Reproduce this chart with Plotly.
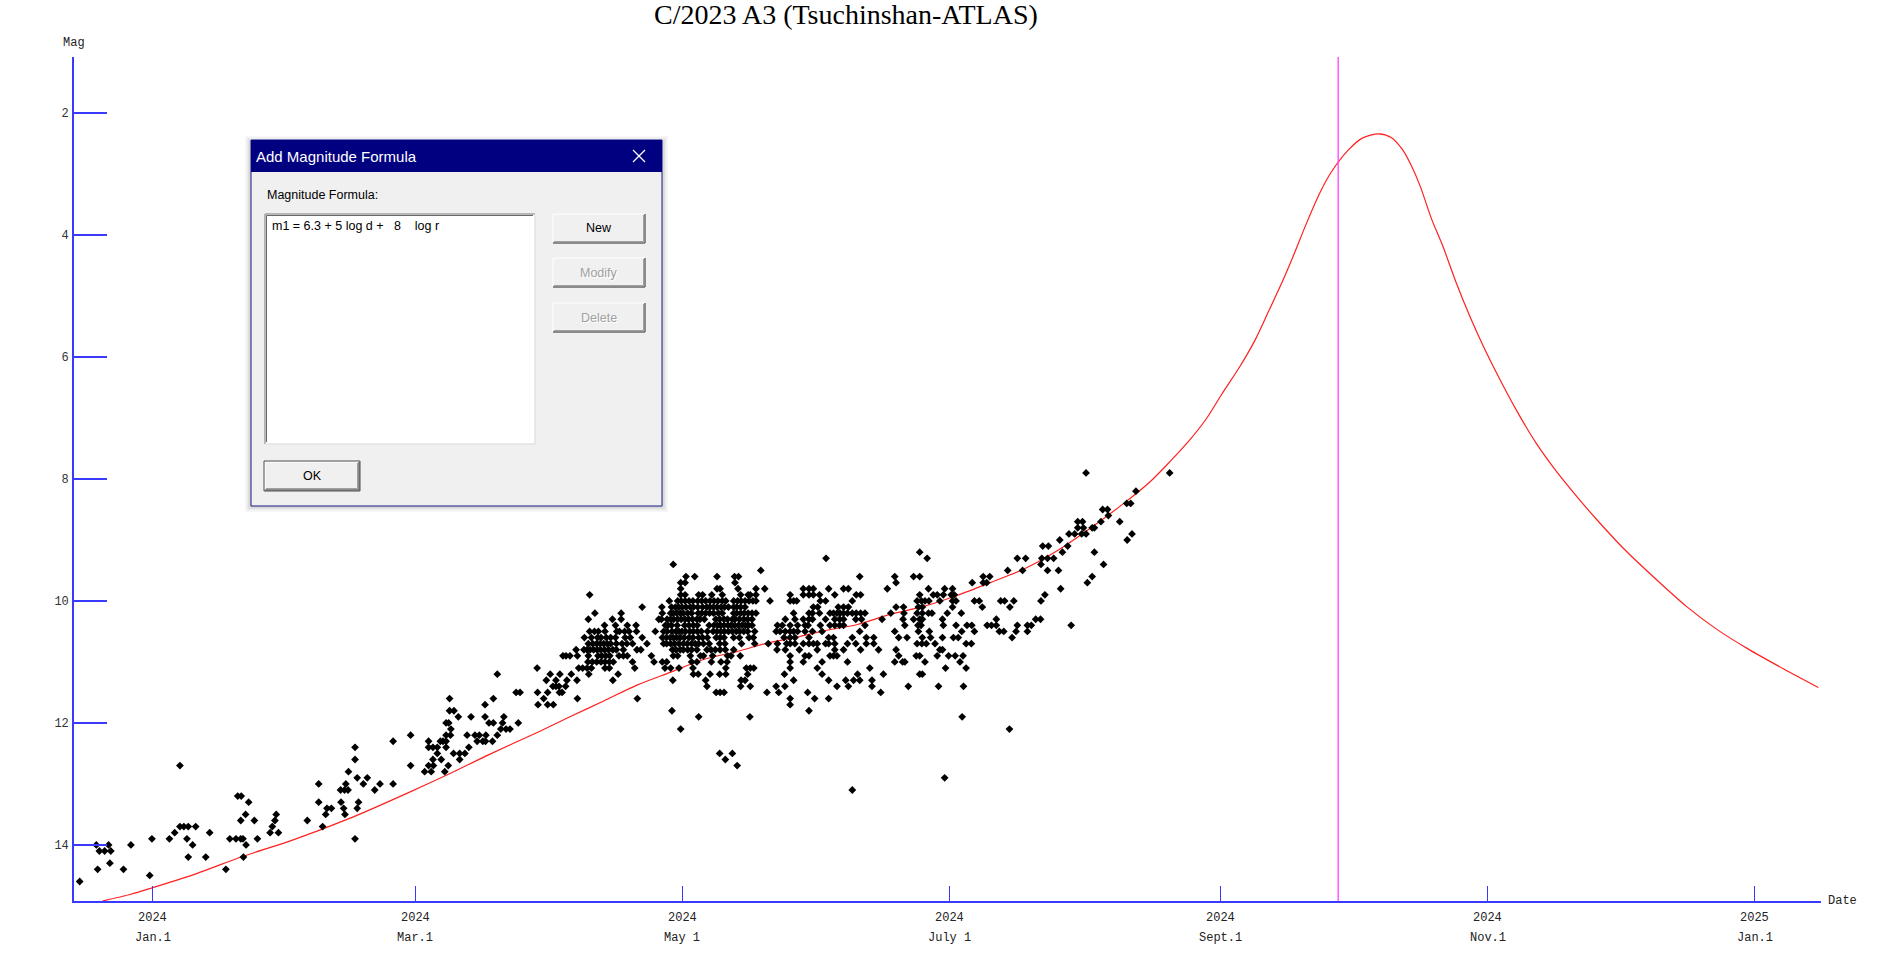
import pandas as pd
import plotly.graph_objects as go

# -----------------------------------------
# Data
# days are counted from 2024 Jan 1.0
# -----------------------------------------
BASE = pd.Timestamp("2024-01-01")

# observations, grouped as (magnitude, [days...])
obs_winter = [
    (14.6, [-16.7]),
    (14.5, [-0.7]),
    (14.4, [-12.6, -6.7, 16.7]),
    (14.3, [-9.8]),
    (14.2, [8.1, 12.1, 20.7]),
    (14.1, [-12.2, -11.0, -9.6]),
    (14.0, [-12.9, -10.1, -5.0, 9.1, 21.3]),
    (13.9, [-0.2, 3.8, 7.8, 17.6, 19.0, 20.1, 20.6, 23.9, 46.2]),
    (13.8, [5.0, 13.0, 26.8, 28.7]),
    (13.7, [6.2, 7.1, 8.1, 9.8, 27.3, 38.8]),
    (13.6, [20.1, 23.2, 27.9, 35.3]),
    (13.5, [21.2, 28.2, 39.5, 43.9]),
    (13.4, [39.8, 40.8, 43.6, 46.7]),
    (13.3, [21.9, 37.9, 43.0, 47.0]),
    (13.2, [19.4, 20.2]),
    (13.1, [42.9, 43.8, 44.6, 50.7]),
    (13.0, [37.9, 44.1, 48.1, 51.9, 54.9]),
    (12.9, [46.7, 49.0]),
    (12.8, [44.7, 62.1, 63.6, 66.7]),
    (12.7, [6.2, 58.9, 63.0, 64.1, 67.5]),
    (12.6, [46.2, 64.0, 65.9, 70.1]),
    (12.5, [65.0, 68.7, 70.1, 71.3]),
    (12.4, [46.2, 63.0, 64.0, 65.0, 67.0, 72.2]),
    (12.3, [54.9, 63.0, 65.7, 66.3, 67.0, 74.1, 75.4, 76.0]),
    (12.2, [58.9, 67.0, 68.0, 71.8, 73.6, 74.6, 76.1]),
    (12.1, [68.1]),
    (12.0, [67.0, 67.6, 76.8]),
    (11.9, [69.8, 72.7, 75.9]),
    (11.8, [67.8, 68.8]),
    (11.7, [75.9]),
    (11.6, [67.8]),
]

obs_spring = [
    (9.4, [118.9]),
    (9.5, [138.9]),
    (9.6, [121.8, 123.8, 128.9, 132.9, 133.8]),
    (9.7, [120.6, 121.6, 133.0]),
    (9.8, [120.6, 128.9, 129.6, 133.7, 137.8, 139.8]),
    (9.9, [99.8, 120.6, 121.6, 124.7, 125.6, 127.7, 130.1, 134.3, 136.0, 136.5, 137.8]),
    (10.0, [118.0, 119.9, 120.7, 121.6, 122.5, 123.4, 124.5, 125.4, 126.3, 127.3, 128.2,
            129.1, 130.1, 130.9, 132.7, 133.6, 134.4, 135.3, 136.2, 137.1, 137.8, 141.0]),
    (10.1, [111.8, 116.3, 118.5, 119.4, 120.1, 120.9, 121.8, 122.8, 123.5, 124.5, 125.6,
            126.6, 127.3, 128.1, 128.9, 129.8, 130.6, 131.5, 132.7, 133.4, 134.3, 135.3]),
    (10.2, [101.0, 107.0, 116.4, 118.3, 118.9, 119.7, 120.5, 121.2, 122.2, 123.1, 124.6,
            125.4, 126.3, 127.2, 128.1, 129.2, 130.1, 132.7, 133.4, 134.3, 135.1, 136.0,
            136.9, 137.8]),
    (10.3, [99.5, 105.0, 107.0, 115.6, 116.2, 117.5, 118.3, 119.0, 119.9, 120.7, 121.6,
            122.4, 123.3, 124.3, 125.0, 126.0, 128.6, 129.5, 130.5, 131.3, 132.4, 133.0,
            134.0, 135.0, 135.9, 136.9, 144.5]),
    (10.4, [103.2, 105.7, 108.4, 110.4, 117.1, 117.7, 118.5, 119.8, 121.5, 122.5, 123.5,
            124.4, 127.1, 128.2, 129.0, 129.7, 130.5, 131.4, 132.1, 132.9, 133.8, 134.6,
            135.4, 136.1, 136.9, 142.7, 143.8]),
    (10.5, [99.8, 100.9, 101.8, 103.3, 106.0, 106.6, 107.8, 108.8, 110.5, 114.8, 116.7,
            117.5, 118.6, 119.5, 120.2, 120.9, 121.7, 122.7, 123.5, 124.4, 125.3, 126.7,
            128.0, 128.9, 129.8, 130.6, 131.5, 132.4, 133.3, 134.1, 135.0, 135.9, 137.5,
            142.4, 143.3, 144.5]),
    (10.6, [98.6, 100.2, 101.6, 102.4, 103.6, 104.6, 105.7, 107.9, 109.1, 111.8, 116.4,
            117.3, 118.2, 118.9, 119.7, 120.5, 121.4, 122.5, 123.4, 124.7, 125.6, 126.7,
            128.7, 129.6, 130.5, 132.7, 134.0, 136.2, 137.2, 144.2]),
    (10.7, [99.5, 100.5, 101.4, 102.2, 103.0, 103.8, 104.6, 105.9, 107.2, 108.3, 109.6,
            112.9, 116.7, 117.4, 118.3, 119.2, 120.2, 121.2, 122.1, 123.1, 123.9, 124.7,
            125.8, 127.1, 129.5, 130.7, 134.5, 137.5, 140.6, 142.7, 144.8]),
    (10.8, [96.7, 98.5, 99.2, 99.9, 100.7, 101.5, 102.3, 103.2, 104.1, 105.1, 105.9,
            107.5, 110.6, 111.5, 118.7, 119.5, 120.5, 121.2, 122.2, 123.1, 124.3, 126.6,
            127.5, 128.5, 129.6, 130.8, 132.7, 142.6, 144.5]),
    (10.9, [93.7, 94.4, 95.3, 97.0, 99.5, 101.7, 102.6, 103.5, 104.4, 106.5, 107.5,
            108.4, 113.9, 118.9, 119.9, 122.8, 125.1, 125.8, 127.9, 131.3, 132.1, 134.2]),
    (11.0, [99.4, 100.4, 101.4, 102.4, 103.3, 104.3, 105.2, 109.6, 114.5, 116.4, 117.4,
            123.1, 124.3, 127.6, 129.8, 131.2]),
    (11.1, [87.8, 97.3, 98.2, 99.2, 100.2, 103.3, 104.3, 110.1, 117.0, 118.3, 120.2,
            123.4, 130.9, 135.6, 136.5, 137.3]),
    (11.2, [78.7, 90.8, 93.0, 95.6, 99.6, 106.3, 123.5, 124.6, 127.3, 129.5, 130.9,
            135.9, 144.3]),
    (11.3, [89.9, 92.1, 94.6, 96.9, 105.1, 118.8, 126.3, 134.4, 135.3]),
    (11.4, [91.4, 92.1, 92.8, 94.3, 126.6, 134.3, 136.5, 142.4, 144.4]),
    (11.5, [83.0, 83.9, 87.9, 90.2, 92.9, 93.5, 128.7, 129.6, 130.5, 140.3, 143.0]),
    (11.6, [77.8, 89.3, 97.0, 110.7]),
    (11.7, [88.0, 90.2, 91.5]),
    (11.8, [118.6]),
    (11.9, [80.2, 124.7, 136.4]),
    (12.0, [77.8, 79.9, 83.5]),
    (12.1, [79.5, 80.7, 81.6, 120.6]),
    (12.2, [78.7]),
    (12.3, [77.6]),
    (12.5, [129.5, 132.4]),
    (12.6, [130.8]),
    (12.7, [133.5]),
]

obs_summer = [
    (9.2, [175.2]),
    (9.3, [153.8, 176.9]),
    (9.6, [161.5, 169.5, 173.8, 175.2, 189.7, 191.2, 214.6]),
    (9.7, [169.8, 187.2, 189.7, 190.5, 213.5]),
    (9.8, [148.6, 149.9, 150.9, 154.4, 157.8, 158.9, 167.8, 177.2, 180.9, 182.7, 207.4]),
    (9.9, [145.6, 148.6, 149.9, 150.9, 152.3, 155.8, 160.7, 161.7, 175.2, 178.3, 179.2,
           180.6, 182.4, 183.1, 203.8]),
    (10.0, [145.6, 146.4, 147.1, 152.5, 153.7, 159.8, 174.6, 175.6, 176.4, 177.3, 179.8,
            182.7, 183.5, 187.7, 188.8, 193.7, 194.6, 196.7, 202.9]),
    (10.1, [150.9, 151.9, 156.6, 157.8, 158.9, 169.8, 171.5, 174.9, 175.8, 182.7, 189.5,
            195.8]),
    (10.2, [146.4, 149.9, 150.7, 152.3, 154.7, 155.5, 156.3, 157.0, 157.8, 158.7, 159.8,
            160.7, 161.7, 162.7, 168.6, 171.6, 174.6, 175.8, 177.2, 178.0, 181.5, 184.7]),
    (10.3, [146.7, 148.6, 149.9, 150.7, 153.7, 155.8, 156.9, 157.8, 160.6, 161.9, 166.6,
            171.4, 173.8, 175.2, 175.8, 180.4, 192.7, 201.7, 202.8]),
    (10.4, [145.6, 147.3, 149.0, 149.7, 152.5, 154.7, 155.8, 156.9, 157.8, 162.7, 171.8,
            174.8, 175.5, 180.6, 183.5, 186.0, 187.1, 190.6, 191.6, 192.7, 197.5, 199.8,
            200.7, 209.8]),
    (10.5, [145.6, 146.4, 147.3, 149.0, 150.7, 152.9, 161.5, 169.5, 174.9, 177.4, 184.8,
            187.7, 193.4, 194.4, 197.2, 199.8]),
    (10.6, [145.6, 146.7, 149.9, 154.4, 155.5, 159.8, 163.0, 164.7, 170.4, 172.3, 175.8,
            177.7, 180.4, 182.9, 184.0, 196.3]),
    (10.7, [145.6, 146.7, 148.6, 149.9, 150.9, 151.8, 153.7, 154.4, 155.8, 158.7, 160.6,
            163.0, 164.7, 174.6, 175.7, 176.7, 178.7, 185.8, 187.0]),
    (10.8, [147.7, 151.8, 155.8, 157.8, 161.7, 165.8, 169.8, 179.8, 180.4]),
    (10.9, [145.6, 149.0, 149.9, 154.7, 155.5, 156.3, 170.4, 174.4, 175.2, 179.2, 181.8,
            183.3, 185.1]),
    (11.0, [145.6, 148.6, 152.9, 158.7, 169.5, 171.3, 171.8, 176.4, 184.4]),
    (11.1, [145.6, 151.8, 163.8, 181.1, 185.8]),
    (11.2, [152.9, 161.0, 166.9, 175.2, 175.8]),
    (11.3, [146.4, 154.4, 158.3, 160.1, 161.5, 164.3]),
    (11.4, [156.3, 158.9, 164.3, 172.6, 179.5, 185.2]),
    (11.5, [149.6, 166.3]),
    (11.6, [145.6, 151.2, 154.4]),
    (11.7, [145.6]),
    (11.8, [149.9]),
    (11.9, [184.9]),
    (12.1, [195.7]),
    (12.9, [180.9]),
    (13.1, [159.8]),
]

obs_august = [
    (7.9, [213.2, 232.3]),
    (8.2, [224.6]),
    (8.4, [222.5, 223.4]),
    (8.5, [217.0, 218.1]),
    (8.6, [218.3]),
    (8.7, [211.3, 212.4, 216.6, 220.9]),
    (8.8, [211.3, 212.6, 214.6, 215.1]),
    (8.9, [209.3, 210.6, 212.2, 213.2, 223.7]),
    (9.0, [207.2, 222.6]),
    (9.1, [203.3, 204.6, 209.0]),
    (9.2, [207.8, 215.1]),
    (9.3, [197.5, 199.4, 203.1, 204.4, 205.8]),
    (9.4, [202.9, 217.2]),
    (9.5, [195.3, 198.7, 204.4, 206.9]),
]

# red magnitude-formula curve, read point by point
curve_days = [-11.5, -5.0, 0, 10.0, 20.5, 31.6, 45.8, 58.8, 67.9, 76.8, 87.7,
              95.3, 103.0, 110.6, 118.2, 125.8, 133.4, 141.0, 147.9, 153.2, 160.8, 168.4,
              176.1, 183.7, 191.3, 198.9, 206.5, 214.1, 221.8, 227.9, 232.3, 237.0, 240.6,
              244.2, 248.3, 251.9, 254.9, 258.0, 260.5, 263.6, 266.6, 269.2, 273.2,
              276.3, 280.1, 282.9, 285.5, 287.5, 289.6, 292.1, 294.7, 297.7, 300.8, 303.8,
              307.9, 311.5, 316.1, 320.7, 325.8, 329.8, 336.0, 344.1, 350.2, 357.4, 364.5,
              372.7, 380.5]
curve_mags = [14.92, 14.81, 14.70, 14.47, 14.19, 13.93, 13.54, 13.13, 12.83,
              12.52, 12.16, 11.90, 11.64, 11.38, 11.17, 10.96, 10.83, 10.68, 10.58, 10.49,
              10.39, 10.22, 10.09, 9.91, 9.70, 9.48, 9.18, 8.81, 8.40, 8.04, 7.72, 7.35,
              7.02, 6.61, 6.16, 5.71, 5.25, 4.77, 4.35, 3.80, 3.31, 2.97, 2.60, 2.41,
              2.34, 2.40, 2.60, 2.86, 3.21, 3.73, 4.18, 4.77, 5.32, 5.80, 6.39, 6.87, 7.42,
              7.88, 8.33, 8.66, 9.14, 9.69, 10.08, 10.47, 10.79, 11.12, 11.42]

perihelion_day = 270.8

tick_dates = ["2024-01-01", "2024-03-01", "2024-05-01", "2024-07-01",
              "2024-09-01", "2024-11-01", "2025-01-01"]
tick_years = ["2024", "2024", "2024", "2024", "2024", "2024", "2025"]
tick_months = ["Jan.1", "Mar.1", "May 1", "July 1", "Sept.1", "Nov.1", "Jan.1"]
mag_ticks = [2, 4, 6, 8, 10, 12, 14]

formula_text = "m1 = 6.3 + 5 log d +   8    log r"


def expand(rows):
    days, mags = [], []
    for mag, ds in rows:
        for d in ds:
            days.append(d)
            mags.append(mag)
    return days, mags


def to_dates(days):
    return BASE + pd.to_timedelta(pd.Series(days, dtype=float), unit="D")


obs_days, obs_mags = [], []
for block in [obs_winter, obs_spring, obs_summer, obs_august]:
    d, m = expand(block)
    obs_days += d
    obs_mags += m

# plot area in page pixels
PL, PR, PT, PB = 74, 1821, 57, 901
W, H = 1898, 957
AXIS_BLUE = "#3a3aff"
MONO = "Liberation Mono"
UI = "Liberation Sans"


def px(x):
    return (x - PL) / (PR - PL)


def py(y):
    return (PB - y) / (PB - PT)


fig = go.Figure()

fig.add_trace(go.Scatter(
    x=to_dates(curve_days), y=curve_mags, mode="lines",
    line=dict(color="#ff2020", width=1.2, shape="spline", smoothing=0.8),
    hoverinfo="skip", showlegend=False))

fig.add_trace(go.Scatter(
    x=to_dates(obs_days), y=obs_mags, mode="markers",
    marker=dict(symbol="diamond", size=6, color="black", line=dict(width=0)),
    showlegend=False))

shapes = []
annotations = []

# perihelion marker
peri = BASE + pd.Timedelta(days=perihelion_day)
shapes.append(dict(type="line", xref="x", yref="paper", x0=peri, x1=peri, y0=0, y1=1,
                   line=dict(color="#ff40ff", width=1.3)))

# date labels under the ticks
for d, yr, mo in zip(tick_dates, tick_years, tick_months):
    annotations.append(dict(x=d, xref="x", y=0, yref="paper", yshift=-17, text=yr,
                            xanchor="center", yanchor="middle", showarrow=False,
                            font=dict(family=MONO, size=12, color="#222")))
    annotations.append(dict(x=d, xref="x", y=0, yref="paper", yshift=-37, text=mo,
                            xanchor="center", yanchor="middle", showarrow=False,
                            font=dict(family=MONO, size=12, color="#222")))

annotations.append(dict(x=0, xref="paper", y=1, yref="paper", yshift=14, text="Mag",
                        xanchor="center", yanchor="middle", showarrow=False,
                        font=dict(family=MONO, size=12, color="#222")))
annotations.append(dict(x=1, xref="paper", y=0, yref="paper", xshift=5, xanchor="left",
                        yanchor="middle", text="Date", showarrow=False,
                        font=dict(family=MONO, size=12, color="#222")))

# title
annotations.append(dict(x=px(846), xref="paper", y=py(14), yref="paper",
                        xanchor="center", yanchor="middle",
                        text="C/2023 A3 (Tsuchinshan-ATLAS)", showarrow=False,
                        font=dict(family="Liberation Serif", size=28, color="black")))


# ---- the "Add Magnitude Formula" dialog drawn on top ----
def rect(x0, y0, x1, y1, fill, line=None, lw=0):
    shapes.append(dict(type="rect", xref="paper", yref="paper", layer="above",
                       x0=px(x0), x1=px(x1), y0=py(y1), y1=py(y0),
                       fillcolor=fill, line=dict(color=line or fill, width=lw)))


def seg(x0, y0, x1, y1, color, lw=1):
    shapes.append(dict(type="line", xref="paper", yref="paper", layer="above",
                       x0=px(x0), x1=px(x1), y0=py(y0), y1=py(y1),
                       line=dict(color=color, width=lw)))


def label(x, y, text, color="black", size=12.5, anchor="left", family=UI):
    annotations.append(dict(x=px(x), xref="paper", y=py(y), yref="paper", text=text,
                            xanchor=anchor, yanchor="middle", showarrow=False,
                            font=dict(family=family, size=size, color=color)))


def button(x0, y0, x1, y1, text, enabled=True, default=False):
    rect(x0, y0, x1, y1, "#f0f0f0")
    seg(x0, y0, x1, y0, "white")
    seg(x0, y0, x0, y1, "white")
    seg(x0, y1, x1, y1, "#696969", 1.5)
    seg(x1, y0, x1, y1, "#696969", 1.5)
    seg(x0 + 1, y1 - 1.5, x1 - 1.5, y1 - 1.5, "#a0a0a0")
    seg(x1 - 1.5, y0 + 1, x1 - 1.5, y1 - 1.5, "#a0a0a0")
    if default:
        shapes.append(dict(type="rect", xref="paper", yref="paper", layer="above",
                           x0=px(x0 - 1), x1=px(x1 + 1), y0=py(y1 + 1), y1=py(y0 - 1),
                           line=dict(color="#505050", width=1)))
    cx, cy = (x0 + x1) / 2, (y0 + y1) / 2
    if enabled:
        label(cx, cy, text, anchor="center")
    else:
        label(cx + 1, cy + 1, text, color="white", anchor="center")
        label(cx, cy, text, color="#a0a0a0", anchor="center")


# soft shadow
for i, a in enumerate([0.03, 0.04, 0.05, 0.06]):
    g = 6 - i * 1.5
    rect(251 - g, 140 - g + 2, 662 + g, 506 + g, "rgba(0,0,0,%s)" % a)
rect(251, 140, 662, 506, "#f0f0f0", "#1c1c8c", 1)
rect(251, 140, 662, 172, "#000080")
label(254, 156.5, "Add Magnitude Formula", color="white", size=15)
seg(633, 150, 645, 162, "white", 1.2)
seg(633, 162, 645, 150, "white", 1.2)

label(265, 195, "Magnitude Formula:")
rect(265, 214, 535, 444, "white")
seg(265, 214, 535, 214, "#a0a0a0", 1.5)
seg(265, 214, 265, 444, "#a0a0a0", 1.5)
seg(266.5, 215.5, 533, 215.5, "#696969")
seg(266.5, 215.5, 266.5, 442, "#696969")
seg(265, 444, 535, 444, "#e3e3e3", 1.5)
seg(535, 214, 535, 444, "#e3e3e3", 1.5)
label(270, 226, formula_text.replace(" ", "\u00a0"))

button(553, 214, 645, 243, "New")
button(553, 258, 645, 287, "Modify", enabled=False)
button(553, 303, 645, 332, "Delete", enabled=False)
button(265, 462, 359, 490, "OK", default=True)

fig.update_layout(
    width=W, height=H,
    margin=dict(l=PL, r=W - PR, t=PT, b=H - PB, pad=0),
    paper_bgcolor="white", plot_bgcolor="white",
    shapes=shapes, annotations=annotations,
    xaxis=dict(type="date", range=[BASE + pd.Timedelta(days=-18.0),
                                   BASE + pd.Timedelta(days=381.1)],
               tickvals=tick_dates, showticklabels=False, ticks="inside", ticklen=15,
               tickwidth=1.3, tickcolor=AXIS_BLUE, showline=True, linecolor=AXIS_BLUE,
               linewidth=2, showgrid=False, zeroline=False),
    yaxis=dict(range=[14.92, 1.08], tickvals=mag_ticks, ticks="inside", ticklen=33,
               tickwidth=1.6, tickcolor=AXIS_BLUE, showline=True, linecolor=AXIS_BLUE,
               linewidth=1.6, showgrid=False, zeroline=False, ticklabelstandoff=1,
               tickfont=dict(family=MONO, size=12, color="#333")),
)

fig.write_html("out.html", config={"displayModeBar": False},
               post_script="document.body.style.margin='0';")
